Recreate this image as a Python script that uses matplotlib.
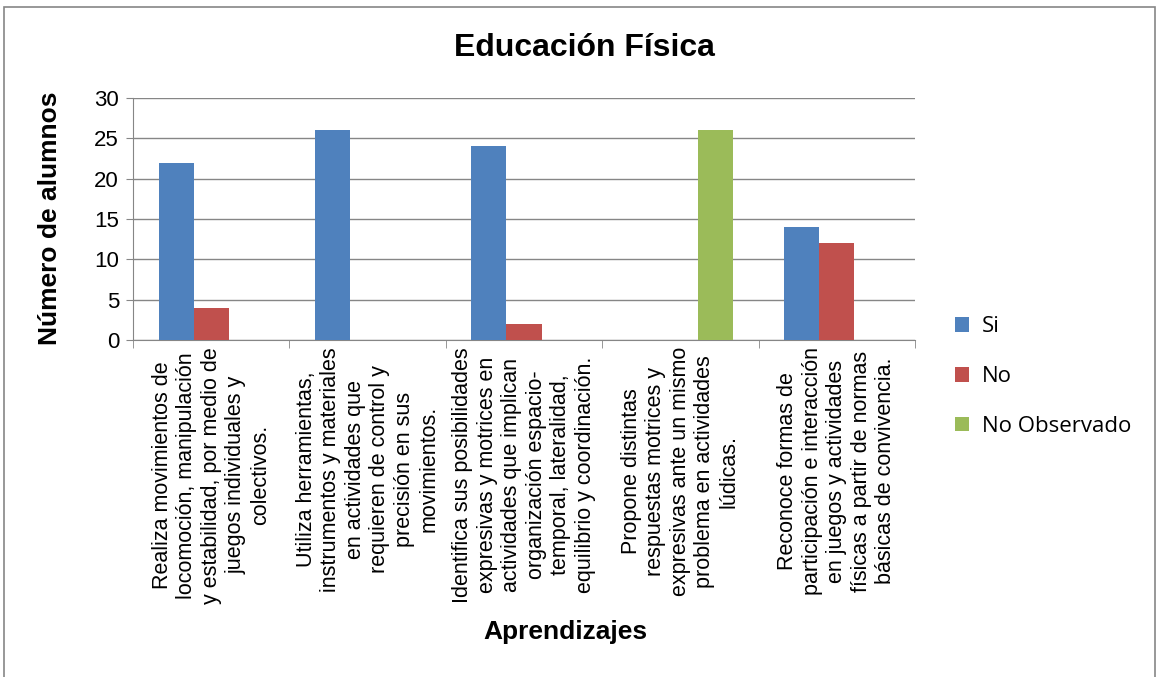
import matplotlib.pyplot as plt
import numpy as np
from matplotlib.patches import Rectangle

# data
categorias = [
    "Realiza movimientos de\nlocomoción, manipulación\ny estabilidad, por medio de\njuegos individuales y\ncolectivos.",
    "Utiliza herramientas,\ninstrumentos y materiales\nen actividades que\nrequieren de control y\nprecisión en sus\nmovimientos.",
    "Identifica sus posibilidades\nexpresivas y motrices en\nactividades que implican\norganización espacio-\ntemporal, lateralidad,\nequilibrio y coordinación.",
    "Propone distintas\nrespuestas motrices y\nexpresivas ante un mismo\nproblema en actividades\nlúdicas.",
    "Reconoce formas de\nparticipación e interacción\nen juegos y actividades\nfísicas a partir de normas\nbásicas de convivencia.",
]
si = [22, 26, 24, 0, 14]
no = [4, 0, 2, 0, 12]
no_observado = [0, 0, 0, 26, 0]

series = [("Si", si, "#4F81BD"), ("No", no, "#C0504D"), ("No Observado", no_observado, "#9BBB59")]

plt.rcParams['font.family'] = ['Liberation Sans', 'DejaVu Sans']

fig = plt.figure(figsize=(11.59, 6.77), dpi=100)
ax = fig.add_axes([133/1159, 1 - 340/677, (915-133)/1159, (340-98)/677])

x = np.arange(len(categorias))
w = 0.224
for i, (name, vals, col) in enumerate(series):
    ax.bar(x + (i - 1) * w, vals, width=w, color=col, label=name, zorder=3)

ax.set_xlim(-0.5, len(categorias) - 0.5)
ax.set_ylim(0, 30)
ax.set_yticks(range(0, 31, 5))
ax.tick_params(axis='y', labelsize=16, length=5, color='#868686', pad=5)
ax.yaxis.grid(True, color='#868686', linewidth=1, zorder=0)

ax.set_xticks(x)
ax.set_xticklabels(categorias, rotation=90, ha='center', va='top',
                   multialignment='center', fontsize=15.5, linespacing=1.22)
ax.tick_params(axis='x', length=0, pad=5)
ax.set_xticks(np.arange(-0.5, len(categorias)), minor=True)
ax.tick_params(axis='x', which='minor', length=6, color='#868686')

for s in ['top', 'right']:
    ax.spines[s].set_visible(False)
for s in ['left', 'bottom']:
    ax.spines[s].set_color('#868686')

fig.text(584/1159, 1 - 48/677, "Educación Física", ha='center', va='center',
         fontsize=23, fontweight='bold')
fig.text(50/1159, 1 - 218/677, "Número de alumnos", ha='center', va='center',
         rotation=90, fontsize=19, fontweight='bold')
fig.text(565/1159, 1 - 632/677, "Aprendizajes", ha='center', va='center',
         fontsize=19, fontweight='bold')

fig.legend(loc='upper left', bbox_to_anchor=(955/1159, 1 - 316/677), frameon=False,
           labelspacing=1.3, handlelength=0.65, handleheight=0.65,
           handletextpad=0.55, borderaxespad=0, borderpad=0,
           prop={'family': ['Open Sans', 'DejaVu Sans'], 'size': 16})

fig.patches.append(Rectangle((4/1159, -0.01), (1155-4)/1159, 1 - 7/677 + 0.01,
                             transform=fig.transFigure, fill=False,
                             edgecolor='#868686', linewidth=1.2))

fig.savefig('out.png', dpi=100)
